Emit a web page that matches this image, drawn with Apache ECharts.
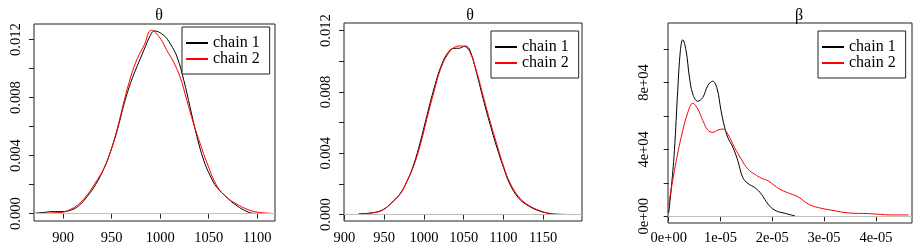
<!DOCTYPE html>
<html>
<head>
<meta charset="UTF-8">
<title>posterior densities</title>
<script type="text/javascript" src="https://cdn.jsdelivr.net/npm/echarts@6/dist/echarts.min.js"></script>
<style>
  *{margin:0;padding:0}
  html,body{width:100%;height:100%;background:#fff}
  #main{width:914px;height:251px}
</style>
</head>
<body>
<div id="main"></div>
<script type="text/javascript">
// panel 1 (theta) - chain 1 / chain 2
var p1c1X = [871, 880, 890, 899, 907.6, 916, 925, 933.5, 942, 949, 956, 963, 970, 976.5, 983.4, 990, 994, 1003.7, 1010.6, 1017.5, 1024.4, 1031, 1038, 1044.8, 1051.7, 1058.6, 1069, 1079.3, 1089.6, 1096.5, 1110];
var p1c1Y = [0.00002, 0.00008, 0.00014, 0.00014, 0.00023, 0.00053, 0.0012, 0.0020, 0.0031, 0.0043, 0.0058, 0.0076, 0.0091, 0.0102, 0.0113, 0.0123, 0.0126, 0.0123, 0.0117, 0.0108, 0.0092, 0.0073, 0.0053, 0.0037, 0.0026, 0.0018, 0.0011, 0.00053, 0.00014, 0.00002, 0.00001];
var p1c2X = [880, 890, 900, 908, 916, 925, 933, 942, 949, 956, 963, 970, 976.5, 983.4, 991, 1000, 1007, 1013.9, 1020.7, 1027.6, 1034.5, 1041.4, 1048.3, 1058.6, 1069, 1079.3, 1089.6, 1100, 1117];
var p1c2Y = [0.00001, 0.00005, 0.0001, 0.0003, 0.00065, 0.0013, 0.0021, 0.0031, 0.0043, 0.0059, 0.0078, 0.0095, 0.0107, 0.0116, 0.01265, 0.0121, 0.01125, 0.01045, 0.0094, 0.0078, 0.0062, 0.0048, 0.0035, 0.0019, 0.0011, 0.00064, 0.0003, 0.0001, 0.0];

// panel 2 (theta)
var p2c1X = [918, 937, 949.6, 962, 970.6, 979, 987.4, 995.8, 1004, 1012.6, 1021, 1029.4, 1037.8, 1044, 1052, 1058, 1066.5, 1074.8, 1083.2, 1091.7, 1100, 1108, 1118.8, 1129, 1146, 1163];
var p2c1Y = [0.00005, 0.00013, 0.00035, 0.0009, 0.0014, 0.0022, 0.0033, 0.0048, 0.0065, 0.0082, 0.0096, 0.0105, 0.01085, 0.01085, 0.0110, 0.0107, 0.0092, 0.0075, 0.0059, 0.0044, 0.0031, 0.0020, 0.0011, 0.00065, 0.00022, 0.00003];
var p2c2X = [923, 940, 950, 962, 971, 979, 987.4, 995.8, 1004, 1012.6, 1021, 1029.4, 1037.8, 1046, 1052, 1058, 1066.5, 1074.8, 1083.2, 1091.7, 1100, 1108, 1118.8, 1129, 1146, 1163, 1191];
var p2c2Y = [0.00004, 0.00015, 0.00035, 0.0009, 0.0014, 0.0022, 0.0032, 0.0046, 0.0063, 0.008, 0.0095, 0.0104, 0.0109, 0.0110, 0.01095, 0.0106, 0.0093, 0.0077, 0.0061, 0.0046, 0.0032, 0.0021, 0.0012, 0.0007, 0.00025, 0.00005, 0.0];

// panel 3 (beta)
var p3c1X = [0, 0.45e-6, 1.1e-6, 1.74e-6, 2.26e-6, 2.7e-6, 3.35e-6, 4.0e-6, 4.65e-6, 5.6e-6, 6.6e-6, 7.55e-6, 8.5e-6, 9.35e-6, 10.1e-6, 10.8e-6, 11.4e-6, 12.4e-6, 13.35e-6, 14.3e-6, 15.3e-6, 16.6e-6, 17.9e-6, 19.2e-6, 20.5e-6, 22.4e-6, 24.4e-6];
var p3c1Y = [2000, 15200, 39200, 75200, 99200, 105600, 99200, 83200, 73200, 68800, 71200, 78200, 80800, 76200, 63200, 53200, 47200, 41200, 33200, 23200, 19600, 17200, 13200, 7200, 3600, 1800, 200];
var p3c2X = [0, 1.1e-6, 2.4e-6, 3.7e-6, 4.65e-6, 5.6e-6, 6.6e-6, 7.55e-6, 8.5e-6, 9.5e-6, 10.45e-6, 11.4e-6, 12.7e-6, 14.0e-6, 15.3e-6, 16.6e-6, 17.9e-6, 19.2e-6, 20.5e-6, 21.7e-6, 23.4e-6, 25.0e-6, 27.0e-6, 28.9e-6, 31.5e-6, 34.7e-6, 38.6e-6, 43.1e-6, 46.3e-6];
var p3c2Y = [7000, 27200, 47200, 62200, 67600, 64200, 57200, 51600, 50200, 51600, 52200, 49200, 41200, 34200, 28200, 25200, 22800, 21200, 18200, 15800, 13600, 11600, 7200, 5200, 3600, 2000, 1600, 800, 800];

// ticks and labels
var thetaYTicks = [0, 0.002, 0.004, 0.006, 0.008, 0.010, 0.012];
var thetaYLabels = [0, 0.004, 0.008, 0.012];
var p1XTicks = [900, 950, 1000, 1050, 1100];
var p2XTicks = [900, 950, 1000, 1050, 1100, 1150];
var p3XTicks = [0, 1e-5, 2e-5, 3e-5, 4e-5];
var p3YTicks = [0, 20000, 40000, 60000, 80000, 100000];
var p3YLabels = [0, 40000, 80000];
var titles = ['θ', 'θ', 'β'];
var chains = ['chain 1', 'chain 2'];

var FONT = '"Liberation Serif", "Times New Roman", "DejaVu Serif", serif';

function zip(xs, ys) {
    return xs.map(function (x, i) { return [x, ys[i]]; });
}

function expFmt(v) {
    if (v === 0) return '0e+00';
    var s = v.toExponential(0).split('e');
    var e = parseInt(s[1], 10);
    return s[0] + 'e' + (e < 0 ? '-' : '+') + (Math.abs(e) < 10 ? '0' : '') + Math.abs(e);
}

var grids = [
    {left: 34, top: 24, width: 241, height: 197},
    {left: 344, top: 23, width: 238, height: 198},
    {left: 668, top: 23, width: 244, height: 200}
];
grids.forEach(function (g) {
    g.show = true;
    g.borderColor = '#222';
    g.borderWidth = 1;
    g.backgroundColor = 'transparent';
});

var xRanges = [[870, 1118.4], [899.5, 1198.9], [-1.35e-7, 4.697e-5]];
var yRanges = [[-0.000512, 0.01308], [-0.000419, 0.0125], [-4020, 115620]];
var xTicks = [p1XTicks, p2XTicks, p3XTicks];
var yTicks = [thetaYTicks, thetaYTicks, p3YTicks];
var yLabs = [thetaYLabels, thetaYLabels, p3YLabels];
var yMargins = [10, 10, 16];
var xMargins = [10, 10, 8];

var labelStyle = {fontFamily: FONT, fontSize: 14.5, color: '#000'};

var xAxes = [], yAxes = [];
for (var i = 0; i < 3; i++) {
    xAxes.push({
        type: 'value', gridIndex: i,
        min: xRanges[i][0], max: xRanges[i][1],
        axisLine: {show: false},
        splitLine: {show: false},
        axisTick: {show: true, length: 5, customValues: xTicks[i], lineStyle: {color: '#222'}},
        axisLabel: Object.assign({
            customValues: xTicks[i], margin: xMargins[i],
            formatter: i === 2 ? expFmt : function (v) { return String(v); }
        }, labelStyle)
    });
    yAxes.push({
        type: 'value', gridIndex: i,
        min: yRanges[i][0], max: yRanges[i][1],
        axisLine: {show: false},
        splitLine: {show: false},
        axisTick: {show: true, length: 5, customValues: yTicks[i], lineStyle: {color: '#222'}},
        axisLabel: Object.assign({
            customValues: yLabs[i], margin: yMargins[i], rotate: 90,
            formatter: i === 2 ? expFmt : function (v) { return v.toFixed(3); }
        }, labelStyle)
    });
}

var panels = [
    [zip(p1c1X, p1c1Y), zip(p1c2X, p1c2Y)],
    [zip(p2c1X, p2c1Y), zip(p2c2X, p2c2Y)],
    [zip(p3c1X, p3c1Y), zip(p3c2X, p3c2Y)]
];
var colors = ['#000000', '#ff0000'];

var series = [];
panels.forEach(function (pair, i) {
    pair.forEach(function (data, k) {
        var s = {
            name: chains[k], type: 'line',
            xAxisIndex: i, yAxisIndex: i,
            data: data,
            symbol: 'none', smooth: 0.4,
            lineStyle: {color: colors[k], width: 1},
            itemStyle: {color: colors[k]},
            z: 3 + k
        };
        if (k === 0) {
            // grey zero line
            s.markLine = {
                silent: true, symbol: ['none', 'none'],
                label: {show: false},
                lineStyle: {color: '#bebebe', type: 'solid', width: 1},
                data: [{yAxis: 0}]
            };
        }
        series.push(s);
    });
});

var titleX = [154, 465, 794];
var title = titles.map(function (t, i) {
    return {
        text: t, left: titleX[i], top: 3, textAlign: 'center',
        textStyle: {fontFamily: FONT, fontSize: 16, fontWeight: 'normal', color: '#000'}
    };
});

var legendPos = [[182, 27], [491, 31], [818, 31]];
var legend = legendPos.map(function (p) {
    return {
        data: chains, orient: 'vertical',
        left: p[0], top: p[1],
        itemWidth: 22, itemHeight: 14, itemGap: 0,
        padding: [8, 10, 7, 3],
        borderColor: '#222', borderWidth: 1, backgroundColor: '#fff',
        selectedMode: false,
        // hide the round symbol, keep the line sample
        itemStyle: {color: 'transparent', borderWidth: 0},
        textStyle: {fontFamily: FONT, fontSize: 16, color: '#000', lineHeight: 14.6}
    };
});

var option = {
    animation: false,
    backgroundColor: '#fff',
    title: title,
    legend: legend,
    grid: grids,
    xAxis: xAxes,
    yAxis: yAxes,
    series: series
};

var myChart = echarts.init(document.getElementById('main'));
myChart.setOption(option);
</script>
</body>
</html>
